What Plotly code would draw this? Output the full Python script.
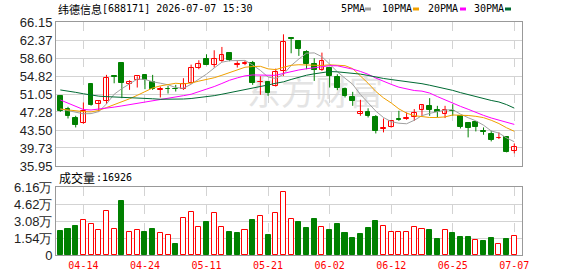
import plotly.graph_objects as go

# ---------------- data ----------------
dates = ["04-09", "04-10", "04-13", "04-14", "04-15", "04-16", "04-17", "04-20", "04-21", "04-22",
         "04-23", "04-24", "04-27", "04-28", "04-29", "04-30", "05-06", "05-07", "05-08", "05-11",
         "05-12", "05-13", "05-14", "05-15", "05-18", "05-19", "05-20", "05-21", "05-22", "05-25",
         "05-26", "05-27", "05-28", "05-29", "06-01", "06-02", "06-03", "06-04", "06-05", "06-08",
         "06-09", "06-10", "06-11", "06-12", "06-15", "06-16", "06-17", "06-18", "06-22", "06-23",
         "06-24", "06-25", "06-26", "06-29", "06-30", "07-01", "07-02", "07-03", "07-06", "07-07"]

open_ = [50.67, 47.88, 46.06, 44.88, 53.11, 48.92, 49.62, 54.82, 57.57, 53.25,
         54.00, 55.06, 53.67, 51.95, 52.10, 52.10, 52.06, 53.32, 56.60, 58.34,
         57.08, 57.92, 59.59, 57.10, 57.35, 57.64, 53.50, 53.60, 52.76, 55.90,
         62.70, 62.17, 59.94, 57.29, 56.04, 56.45, 54.64, 52.06, 50.46, 46.83,
         47.32, 46.13, 43.69, 44.04, 45.75, 45.85, 46.27, 47.67, 48.57, 47.67,
         46.83, 47.50, 46.48, 44.88, 45.09, 43.30, 42.64, 41.74, 42.09, 39.16]
high = [50.80, 48.36, 46.48, 49.27, 53.30, 49.70, 55.06, 54.82, 57.60, 53.94,
        54.78, 55.20, 55.06, 52.62, 52.76, 52.97, 54.36, 57.22, 58.13, 59.38,
        60.22, 60.92, 59.66, 57.92, 58.00, 57.99, 54.78, 53.65, 56.38, 63.57,
        62.75, 62.20, 60.22, 58.55, 59.73, 56.60, 55.20, 52.41, 51.50, 49.83,
        48.06, 46.62, 45.92, 45.57, 47.53, 47.18, 47.88, 48.75, 50.18, 48.57,
        48.57, 48.92, 46.50, 44.90, 45.10, 44.04, 43.34, 43.00, 42.10, 40.69]
low = [47.30, 45.92, 44.04, 44.80, 48.60, 47.39, 48.92, 53.30, 50.18, 51.92,
       52.41, 52.06, 51.90, 50.32, 51.15, 51.57, 51.90, 53.20, 56.25, 57.08,
       56.60, 57.80, 57.92, 56.60, 57.10, 52.97, 50.88, 50.67, 52.60, 54.85,
       59.59, 59.04, 56.25, 53.80, 55.90, 52.41, 51.85, 50.32, 48.57, 46.48,
       46.13, 42.78, 43.00, 44.00, 45.43, 45.64, 45.43, 46.27, 46.48, 46.13,
       46.00, 46.48, 43.83, 41.95, 43.20, 42.50, 41.11, 41.60, 38.81, 38.60]
close = [47.53, 46.35, 44.53, 47.53, 48.77, 49.62, 54.36, 54.70, 53.46, 53.60,
         54.78, 54.00, 52.00, 52.05, 52.07, 52.00, 53.11, 56.60, 57.29, 57.15,
         58.34, 59.24, 58.13, 57.30, 57.50, 53.46, 53.60, 51.18, 55.76, 61.97,
         62.60, 60.43, 57.29, 56.04, 57.99, 54.85, 52.41, 50.53, 49.62, 47.32,
         46.48, 43.34, 43.83, 45.29, 45.65, 45.95, 46.97, 48.71, 47.67, 47.32,
         47.74, 47.40, 44.04, 43.90, 44.04, 43.15, 41.39, 41.80, 38.81, 40.00]

ma5 = [47.90, 47.60, 47.20, 46.90, 46.94, 47.36, 48.96, 51.00, 52.18, 53.15,
       54.18, 54.11, 53.62, 53.32, 52.98, 52.41, 52.24, 53.10, 54.17, 55.22,
       56.50, 57.72, 58.03, 58.03, 58.10, 57.13, 56.00, 54.61, 54.30, 55.19,
       57.02, 58.39, 59.61, 59.67, 58.87, 57.32, 55.72, 54.36, 53.08, 50.95,
       49.27, 47.46, 46.12, 45.25, 44.92, 44.81, 45.54, 46.51, 46.99, 47.32,
       47.68, 47.77, 46.83, 46.08, 45.42, 44.51, 43.30, 42.86, 41.84, 41.03]
ma10 = [47.90, 47.70, 47.50, 47.35, 47.30, 47.60, 48.20, 48.80, 49.40, 50.05,
        50.77, 51.54, 52.31, 52.75, 53.06, 53.30, 53.17, 53.36, 53.75, 54.10,
        54.46, 54.98, 55.57, 56.10, 56.66, 56.81, 56.86, 56.32, 56.17, 56.65,
        57.07, 57.19, 57.11, 56.98, 57.03, 57.17, 57.05, 56.99, 56.37, 54.91,
        53.30, 51.59, 50.24, 49.17, 47.93, 47.04, 46.50, 46.32, 46.12, 46.12,
        46.25, 46.65, 46.67, 46.54, 46.37, 46.09, 45.54, 44.85, 43.96, 43.23]
ma20 = [49.80, 49.10, 48.40, 47.80, 47.70, 47.85, 48.05, 48.30, 48.55, 48.80,
        49.05, 49.40, 49.70, 49.95, 50.20, 50.45, 50.70, 51.00, 51.50, 52.07,
        52.61, 53.26, 53.94, 54.43, 54.86, 55.05, 55.02, 54.84, 54.96, 55.37,
        55.77, 56.09, 56.34, 56.54, 56.85, 56.99, 56.96, 56.65, 56.27, 55.78,
        55.19, 54.39, 53.68, 53.07, 52.48, 52.11, 51.78, 51.65, 51.25, 50.51,
        49.77, 49.12, 48.46, 47.85, 47.15, 46.57, 46.02, 45.58, 45.04, 44.67]
ma30 = [51.90, 51.70, 51.40, 51.10, 50.80, 50.60, 50.50, 50.45, 50.40, 50.35,
        50.30, 50.20, 50.05, 49.95, 49.93, 49.95, 50.00, 50.10, 50.25, 50.45,
        50.70, 51.00, 51.30, 51.65, 52.00, 52.35, 52.65, 52.95, 53.30, 53.60,
        54.10, 54.57, 54.99, 55.28, 55.59, 55.76, 55.70, 55.56, 55.43, 55.22,
        54.94, 54.59, 54.31, 54.08, 53.88, 53.68, 53.47, 53.21, 52.89, 52.56,
        52.21, 51.81, 51.34, 50.89, 50.45, 50.10, 49.70, 49.38, 48.82, 48.09]

volume = [21600, 23400, 26100, 31300, 28500, 23100, 40300, 24000, 48700, 20400,
          23100, 20700, 23400, 19500, 17700, 9900, 33100, 39100, 25800, 29700,
          38200, 25800, 20700, 19800, 22200, 31600, 34900, 18000, 38500, 57100,
          32200, 29700, 24600, 32500, 25800, 22500, 27900, 19800, 15300, 18900,
          24600, 30700, 26700, 20400, 20400, 20400, 25200, 23400, 22500, 14400,
          22200, 19800, 16200, 16200, 13200, 12600, 15300, 9600, 14400, 16926]

x_tick_labels = ["04-14", "04-24", "05-11", "05-21", "06-02", "06-12", "06-25", "07-07"]
price_ticks = [35.95, 39.73, 43.50, 47.28, 51.05, 54.82, 58.60, 62.37, 66.15]
vol_ticks = [0, 15400, 30800, 46200, 61600]
vol_tick_labels = ["0", "1.54万", "3.08万", "4.62万", "6.16万"]
stock_title = "纬德信息"
stock_info = "[688171] 2026-07-07 15:30"
ma_names = ["5PMA", "10PMA", "20PMA", "30PMA"]
vol_label = "成交量"
vol_last = ":16926"

# ---------------- styling ----------------
W, H = 578, 276
L, R, T, B = 56, 522, 22, 255
RED = "#ff0000"
GREEN = "#008000"
MA_COLORS = ["#a0a0a0", "#f0a000", "#ff00ff", "#006a33"]
GRID = "#d3d3d3"
BORDER = "#999999"


def px_x(p):
    return (p - L) / (R - L)


def px_y(p):
    return (B - p) / (B - T)


n = len(dates)
up = [close[i] >= open_[i] for i in range(n)]
vol_up = [up[0]] + [close[i] >= close[i - 1] for i in range(1, n)]

fig = go.Figure()

# wicks
for flag, col in ((True, RED), (False, GREEN)):
    xs, ys = [], []
    for i in range(n):
        if up[i] == flag:
            xs += [dates[i], dates[i], None]
            ys += [low[i], high[i], None]
    fig.add_trace(go.Scatter(x=xs, y=ys, mode="lines", line=dict(color=col, width=1),
                             xaxis="x", yaxis="y", hoverinfo="skip", showlegend=False))

# bodies
for flag, col, fill in ((True, RED, "#ffffff"), (False, GREEN, GREEN)):
    idx = [i for i in range(n) if up[i] == flag]
    fig.add_trace(go.Bar(
        x=[dates[i] for i in idx],
        y=[max(abs(close[i] - open_[i]), 0.06) for i in idx],
        base=[min(open_[i], close[i]) for i in idx],
        width=0.62,
        marker=dict(color=fill, line=dict(color=col, width=1)),
        xaxis="x", yaxis="y", showlegend=False, hoverinfo="skip"))

# moving averages
for ma, col in zip((ma5, ma10, ma20, ma30), MA_COLORS):
    fig.add_trace(go.Scatter(x=dates, y=ma, mode="lines", line=dict(color=col, width=1),
                             xaxis="x", yaxis="y", showlegend=False, hoverinfo="skip"))

# volume
for flag, col, fill in ((True, RED, "#ffffff"), (False, GREEN, GREEN)):
    idx = [i for i in range(n) if vol_up[i] == flag]
    fig.add_trace(go.Bar(
        x=[dates[i] for i in idx], y=[volume[i] for i in idx], width=0.66,
        marker=dict(color=fill, line=dict(color=col, width=1)),
        xaxis="x2", yaxis="y2", showlegend=False, hoverinfo="skip"))

price_dom = [px_y(166), 1.0]
vol_dom = [0.0, px_y(187)]
yfont = dict(family="Liberation Sans, Arial, sans-serif", size=13, color="#222222")

common_x = dict(type="category", categoryorder="array", categoryarray=dates,
                range=[-0.56, n], showgrid=True, gridcolor=GRID, griddash="dash",
                tickvals=x_tick_labels, showline=True, mirror=True, automargin=False,
                linecolor=BORDER, linewidth=1, zeroline=False, fixedrange=True)

fig.update_layout(
    width=W, height=H,
    margin=dict(l=L, r=W - R, t=T, b=H - B, pad=0, autoexpand=False),
    paper_bgcolor="#ffffff", plot_bgcolor="#ffffff",
    barmode="overlay", bargap=0, showlegend=False,
    xaxis=dict(common_x, anchor="y", domain=[0, 1], showticklabels=False, ticks=""),
    xaxis2=dict(common_x, anchor="y2", domain=[0, 1], matches="x", showticklabels=True,
                ticks="outside", ticklen=1, tickcolor="rgba(0,0,0,0)",
                tickfont=dict(family="DejaVu Sans Mono, monospace", size=10, color="#ff0000")),
    yaxis=dict(domain=price_dom, range=[price_ticks[0], price_ticks[-1]], tickvals=price_ticks,
               ticktext=[f"{v:.2f}" for v in price_ticks], showgrid=True, gridcolor=GRID,
               showline=True, mirror=True, linecolor=BORDER, zeroline=False, ticks="",
               tickfont=yfont, fixedrange=True, automargin=False),
    yaxis2=dict(domain=vol_dom, range=[vol_ticks[0], vol_ticks[-1]], tickvals=vol_ticks,
                ticktext=vol_tick_labels, showgrid=True, gridcolor=GRID, showline=True,
                mirror=True, linecolor=BORDER, zeroline=False, ticks="", tickfont=yfont,
                fixedrange=True, automargin=False),
)

cjk = "Noto Sans CJK SC, sans-serif"
mono = "DejaVu Sans Mono, monospace"
ann = [
    dict(text=stock_title, x=px_x(56), y=px_y(8.5), font=dict(family=cjk, size=11, color="#000")),
    dict(text=stock_info, x=px_x(100), y=px_y(8.5), font=dict(family=mono, size=10, color="#000")),
    dict(text=vol_label, x=px_x(57), y=px_y(177.5), font=dict(family=cjk, size=12, color="#000")),
    dict(text=vol_last, x=px_x(94), y=px_y(177.5), font=dict(family=mono, size=10, color="#000")),
]
leg_text_x = [339, 380, 425.7, 471.7]
leg_box_x = [365, 413, 460, 505]
for name, tx, bx, col in zip(ma_names, leg_text_x, leg_box_x, MA_COLORS):
    ann.append(dict(text=name, x=px_x(tx), y=px_y(8.5), font=dict(family=mono, size=10, color="#000")))
    fig.add_shape(type="rect", xref="paper", yref="paper", x0=px_x(bx), x1=px_x(bx + 6),
                  y0=px_y(10.5), y1=px_y(7.5), fillcolor=col, line=dict(width=0))
for a in ann:
    fig.add_annotation(xref="paper", yref="paper", xanchor="left", yanchor="middle",
                       showarrow=False, **a)

# watermark
fig.add_shape(type="rect", xref="paper", yref="paper", x0=px_x(230), x1=px_x(400),
              y0=px_y(115), y1=px_y(75), line=dict(width=0), fillcolor="rgba(0,0,0,0)",
              layer="below",
              label=dict(text="东方财富", font=dict(family=cjk, size=34, color="#e4e4e4"),
                         textposition="middle center"))

fig.write_html("out.html")
